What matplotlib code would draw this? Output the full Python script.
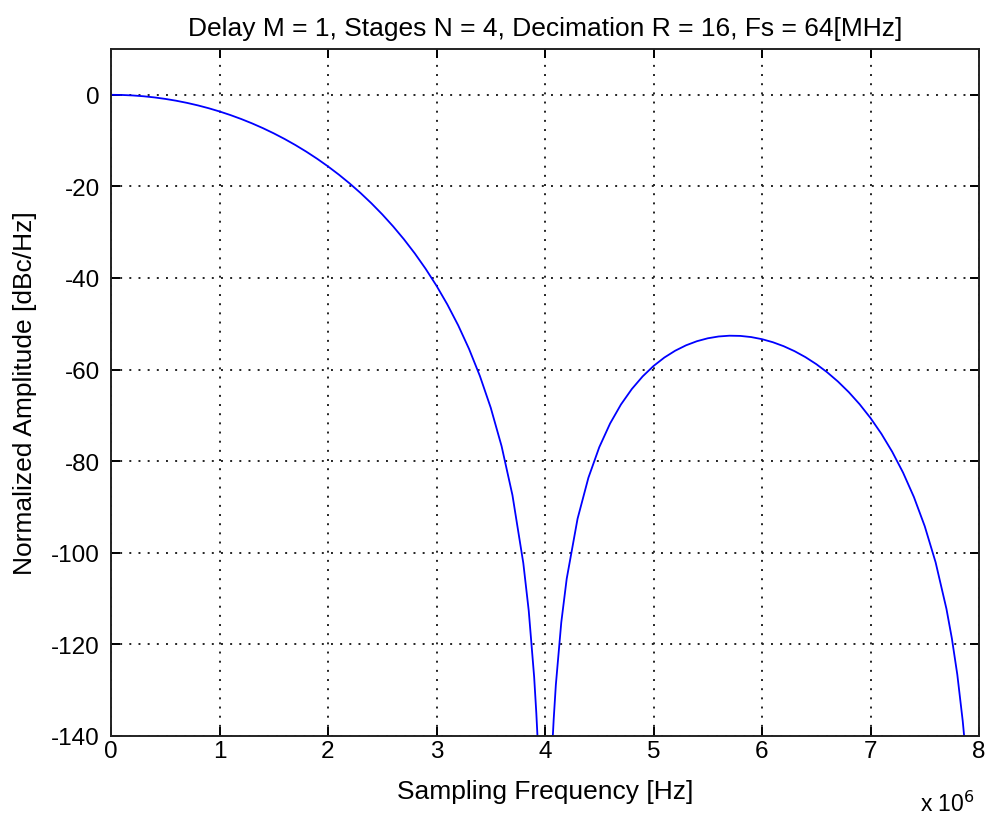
import matplotlib
matplotlib.use("Agg")
import matplotlib.pyplot as plt
from matplotlib.ticker import FixedLocator, FixedFormatter

plt.rcParams['font.family'] = ['Liberation Sans', 'DejaVu Sans']
plt.rcParams['lines.scale_dashes'] = False

# Frequency (MHz) and normalized amplitude (dB)
freq_mhz = [0.0, 0.1, 0.2, 0.3, 0.4, 0.5, 0.6, 0.7, 0.8, 0.9,
            1.0, 1.1, 1.2, 1.3, 1.4, 1.5, 1.6, 1.7, 1.8, 1.9,
            2.0, 2.1, 2.2, 2.3, 2.4, 2.5, 2.6, 2.7, 2.8, 2.9,
            3.0, 3.1, 3.2, 3.3, 3.4, 3.5, 3.6, 3.7, 3.8, 3.85,
            3.9, 3.92, 3.93, 3.94]
amp_db = [0.0, -0.036, -0.142, -0.321, -0.571, -0.894, -1.291, -1.761, -2.308, -2.932,
          -3.634, -4.418, -5.285, -6.238, -7.280, -8.414, -9.646, -10.978, -12.416, -13.966,
          -15.634, -17.430, -19.364, -21.445, -23.687, -26.106, -28.720, -31.553, -34.634, -37.998,
          -41.692, -45.778, -50.339, -55.490, -61.401, -68.333, -76.729, -87.417, -102.242, -112.62,
          -127.11, -135.02, -139.75, -145.18]

freq2_mhz = [4.07, 4.08, 4.1, 4.15, 4.2, 4.3, 4.4, 4.5, 4.6, 4.7,
             4.8, 4.9, 5.0, 5.1, 5.2, 5.3, 5.4, 5.5, 5.6, 5.7,
             5.8, 5.9, 6.0, 6.1, 6.2, 6.3, 6.4, 6.5, 6.6, 6.7,
             6.8, 6.9, 7.0, 7.1, 7.2, 7.3, 7.4, 7.5, 7.6, 7.7,
             7.75, 7.8, 7.85, 7.87]
amp2_db = [-140.95, -136.40, -128.82, -115.20, -105.67, -92.571, -83.614, -76.952, -71.766, -67.618,
           -64.246, -61.483, -59.218, -57.366, -55.874, -54.696, -53.802, -53.165, -52.769, -52.598,
           -52.643, -52.897, -53.357, -54.022, -54.893, -55.975, -57.274, -58.802, -60.573, -62.606,
           -64.927, -67.568, -70.573, -74.002, -77.934, -82.483, -87.820, -94.201, -102.069, -112.244,
           -118.70, -126.58, -136.72, -141.76]

xticks = [0, 1, 2, 3, 4, 5, 6, 7, 8]
yticks = [-140, -120, -100, -80, -60, -40, -20, 0]
xlim = (0, 8)
ylim = (-140, 10)

title = "Delay M = 1, Stages N = 4, Decimation R = 16, Fs = 64[MHz]"
xlabel = "Sampling Frequency [Hz]"
ylabel = "Normalized Amplitude [dBc/Hz]"

FS_LAB = 19
FS_TICK = 17.5

fig = plt.figure(figsize=(9.89, 8.2), dpi=100)
ax = fig.add_axes([111/989, 83/820, 868/989, 687/820])

ax.plot([f * 1e6 for f in freq_mhz], amp_db, color=(0, 0, 1), lw=1.3, clip_on=True)
ax.plot([f * 1e6 for f in freq2_mhz], amp2_db, color=(0, 0, 1), lw=1.3, clip_on=True)

ax.set_xlim(xlim[0] * 1e6, xlim[1] * 1e6)
ax.set_ylim(*ylim)
ax.xaxis.set_major_locator(FixedLocator([t * 1e6 for t in xticks]))
ax.xaxis.set_major_formatter(FixedFormatter([str(t) for t in xticks]))
ax.set_yticks(yticks)
ax.set_yticklabels([str(t) for t in yticks])

ax.grid(True, color='#222222', linestyle=(0, (1.4, 5.2)), linewidth=1.4)
ax.set_axisbelow(True)

ax.tick_params(axis='both', direction='in', length=6.5, width=1.4, top=True, right=True,
               labelsize=FS_TICK, colors='black')
ax.tick_params(axis='y', pad=8)
ax.tick_params(axis='x', pad=3)
for s in ax.spines.values():
    s.set_linewidth(1.4)
    s.set_color('#222222')

ax.set_title(title, fontsize=FS_LAB, pad=10)
ax.set_xlabel(xlabel, fontsize=FS_LAB, labelpad=12)
ax.set_ylabel(ylabel, fontsize=FS_LAB, labelpad=10)
fig.text(975/989, 1 - 812/820, r"x 10$^6$", fontsize=16.5, ha='right', va='baseline')

fig.savefig("out.png", dpi=100)
